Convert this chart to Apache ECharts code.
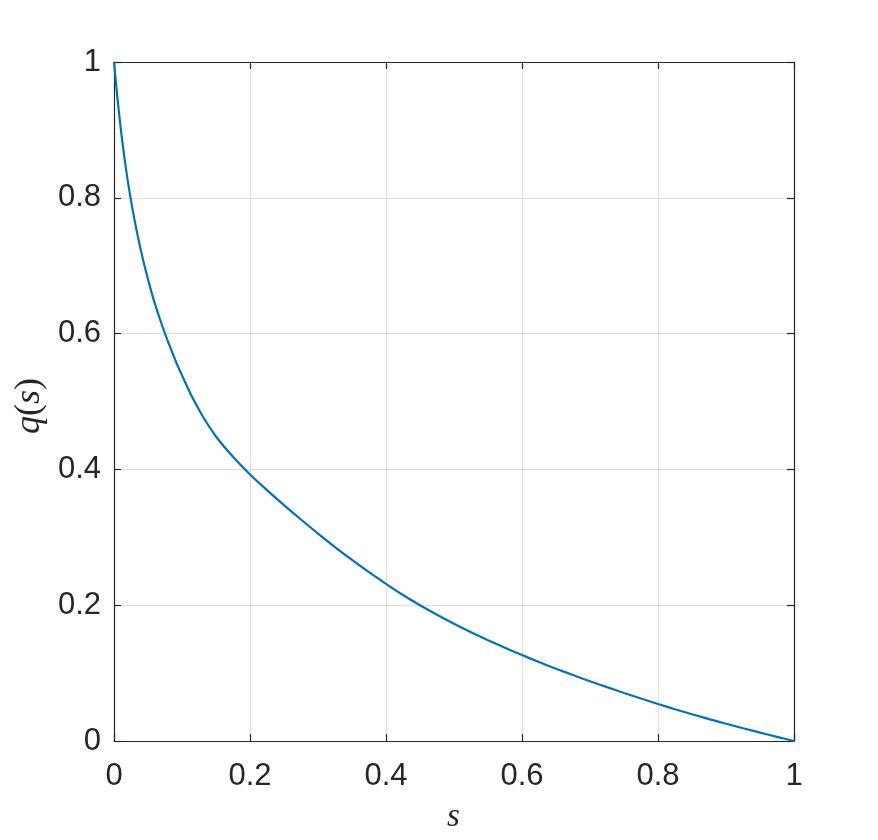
<!DOCTYPE html>
<html>
<head>
<meta charset="utf-8">
<script src="https://cdn.jsdelivr.net/npm/echarts@6/dist/echarts.min.js"></script>
<style>html,body{margin:0;padding:0;background:#fff}#c{width:878px;height:840px}</style>
</head>
<body>
<div id="c"></div>
<script>
const sValues = [0, 0.005, 0.01, 0.015, 0.02, 0.025, 0.03, 0.035, 0.04, 0.045, 0.05, 0.055, 0.06, 0.0675, 0.075, 0.083, 0.0917, 0.1, 0.108, 0.1157, 0.13, 0.15, 0.175, 0.2, 0.225, 0.25, 0.275, 0.3, 0.325, 0.35, 0.375, 0.4, 0.425, 0.45, 0.475, 0.5, 0.525, 0.55, 0.575, 0.6, 0.625, 0.65, 0.675, 0.7, 0.725, 0.75, 0.775, 0.8, 0.825, 0.85, 0.875, 0.9, 0.925, 0.95, 0.975, 1];
const qValues = [1, 0.9475, 0.9015, 0.8615, 0.8265, 0.796, 0.7685, 0.7435, 0.7205, 0.6995, 0.680, 0.6615, 0.6445, 0.6215, 0.600, 0.579, 0.557, 0.5385, 0.521, 0.505, 0.4790, 0.4485, 0.4185, 0.3925, 0.3695, 0.3475, 0.3262, 0.3055, 0.2857, 0.2667, 0.2487, 0.2315, 0.2150, 0.2000, 0.1860, 0.1727, 0.1602, 0.1485, 0.1372, 0.1265, 0.1162, 0.1065, 0.0971, 0.0880, 0.0793, 0.0708, 0.0625, 0.0545, 0.0468, 0.0394, 0.0323, 0.0254, 0.0188, 0.0124, 0.0061, 0];
const tickLabels = ['0', '0.2', '0.4', '0.6', '0.8', '1'];

const axisColor = '#262626';
const labelFont = {fontFamily: 'Liberation Sans, Arial, sans-serif', fontSize: 31, color: axisColor};
function fmt(v){ const i = Math.round(v*5); return tickLabels[i] ?? ''; }

const baseAxis = {
  type: 'value', min: 0, max: 1, interval: 0.2,
  axisLine: {show: true, onZero: false, lineStyle: {color: axisColor, width: 1.2}},
  axisTick: {show: true, inside: true, length: 7, lineStyle: {color: axisColor, width: 1.2}},
  splitLine: {show: false}
};

const chart = echarts.init(document.getElementById('c'), null, {renderer: 'canvas'});
chart.setOption({
  animation: false,
  backgroundColor: '#fff',
  grid: {left: 114, right: 84, top: 62, bottom: 99, containLabel: false},
  xAxis: [
    Object.assign({}, baseAxis, {
      position: 'bottom',
      axisLabel: Object.assign({margin: 20, formatter: fmt}, labelFont),
      splitLine: {show: true, lineStyle: {color: '#dfdfdf', width: 1}}
    }),
    Object.assign({}, baseAxis, {position: 'top', axisLabel: {show: false}})
  ],
  yAxis: [
    Object.assign({}, baseAxis, {
      position: 'left',
      axisLabel: Object.assign({margin: 13, formatter: fmt}, labelFont),
      splitLine: {show: true, lineStyle: {color: '#dfdfdf', width: 1}}
    }),
    Object.assign({}, baseAxis, {position: 'right', axisLabel: {show: false}})
  ],
  graphic: [
    {
      type: 'text', left: 447, top: 801,
      style: {text: 's', font: 'italic 33px "Liberation Serif", "DejaVu Serif", serif', fill: axisColor}
    },
    {
      type: 'text', x: 12, y: 434, rotation: Math.PI/2,
      style: {
        text: '{i|q}{n|(}{i|s}{n|)}',
        rich: {
          i: {font: 'italic 36px "Liberation Serif", "DejaVu Serif", serif', fill: axisColor},
          n: {font: '36px "Liberation Serif", "DejaVu Serif", serif', fill: axisColor}
        },
        fill: axisColor
      }
    }
  ],
  series: [{
    type: 'line',
    xAxisIndex: 0, yAxisIndex: 0,
    data: sValues.map((s, i) => [s, qValues[i]]),
    showSymbol: false,
    smooth: 0.25,
    lineStyle: {color: '#0072BD', width: 2.2},
    clip: false
  }]
});
</script>
</body>
</html>
